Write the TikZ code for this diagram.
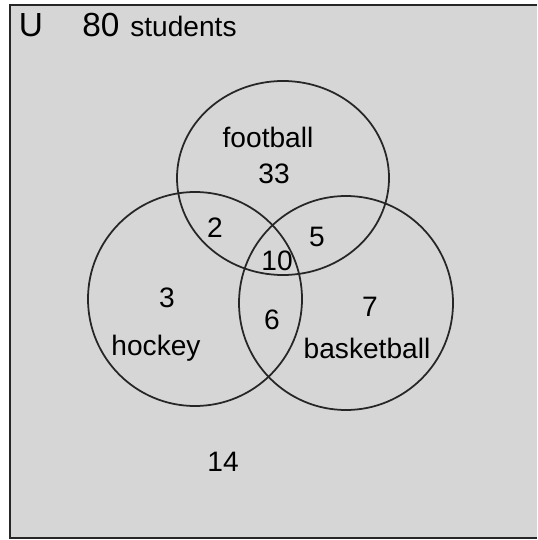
\documentclass[tikz,border=0pt]{standalone}
\usepackage{fontspec}
\setmainfont{Liberation Sans}

\begin{document}
\begin{tikzpicture}[x=0.02cm,y=-0.02cm,font=\fontsize{16}{18}\selectfont,
  region/.style={inner sep=0pt},
  ring/.style={draw=black!85,line width=1pt}]
\useasboundingbox (0,0) rectangle (537,540);
% universe box
\fill[black!16] (10,5) rectangle (537,538);
\draw[black!85,line width=1pt] (537,5) -- (10,5) -- (10,538) -- (537,538);
\node[anchor=base,font=\fontsize{19}{21}\selectfont] (U) at (31,37) {U};
\node[anchor=base west,font=\fontsize{19}{21}\selectfont,inner sep=0pt] (tot) at (82,37) {80};
\node[anchor=base west,inner sep=0pt] (stu) at (130,37) {students};
% the three sets
\draw[ring] (283,178) ellipse [x radius=106,y radius=97];
\draw[ring] (195,299) circle [radius=107];
\draw[ring] (346,303) circle [radius=107];
\node[region] (fball) at (268,137) {football};
\node[region] (hock) at (156,348) {hockey};
\node[region] (bball) at (367,348) {basketball};
% counts
\node[region] (nF) at (274,174) {33};
\node[region] (nFH) at (215,228) {2};
\node[region] (nFB) at (317,237) {5};
\node[region] (nFHB) at (277,261) {10};
\node[region] (nH) at (167,298) {3};
\node[region] (nHB) at (272,320) {6};
\node[region] (nB) at (370,307) {7};
\node[region] (nout) at (223,462) {14};
\end{tikzpicture}
\end{document}
